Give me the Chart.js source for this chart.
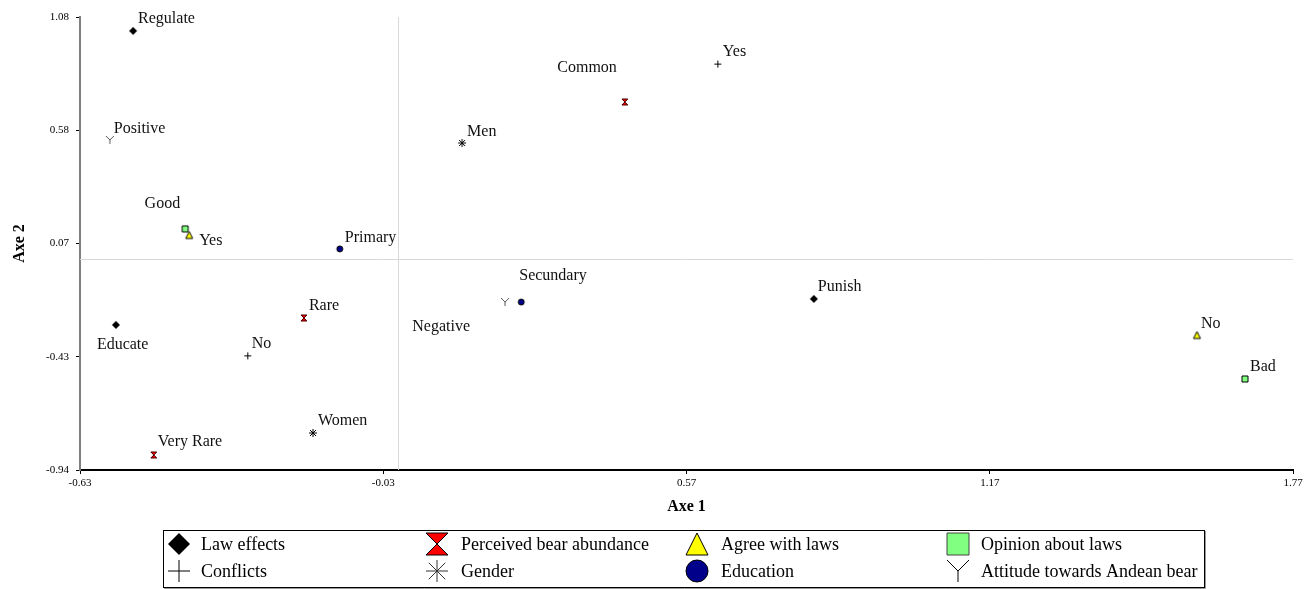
<!doctype html>
<html>

<head>
	<title>Correspondence Analysis</title>
	<script src="https://cdn.jsdelivr.net/npm/chart.js@4/dist/chart.umd.min.js"></script>
	<style>
		body { margin: 0; background: #fff; }
		#holder { width: 1304px; height: 589px; }
	</style>
</head>

<body>
	<div id="holder">
		<canvas id="chart-area" width="1304" height="589"></canvas>
	</div>
	<script>
		// category coordinates
		const lawLabels = ['Regulate', 'Educate', 'Punish'];
		const lawX = [-0.525, -0.559, 0.822];
		const lawY = [1.018, -0.293, -0.177];
		const abundanceLabels = ['Common', 'Rare', 'Very Rare'];
		const abundanceX = [0.448, -0.187, -0.484];
		const abundanceY = [0.701, -0.262, -0.873];
		const agreeLabels = ['Yes', 'No'];
		const agreeX = [-0.414, 1.580];
		const agreeY = [0.108, -0.338];
		const opinionLabels = ['Good', 'Bad'];
		const opinionX = [-0.422, 1.675];
		const opinionY = [0.135, -0.534];
		const conflictLabels = ['Yes', 'No'];
		const conflictX = [0.632, -0.298];
		const conflictY = [0.870, -0.431];
		const genderLabels = ['Men', 'Women'];
		const genderX = [0.126, -0.169];
		const genderY = [0.518, -0.775];
		const educationLabels = ['Primary', 'Secundary'];
		const educationX = [-0.116, 0.243];
		const educationY = [0.046, -0.191];
		const attitudeLabels = ['Positive', 'Negative'];
		const attitudeX = [-0.571, 0.211];
		const attitudeY = [0.532, -0.191];

		const xTicks = [-0.63, -0.03, 0.57, 1.17, 1.77];
		const xTickLabels = ['-0.63', '-0.03', '0.57', '1.17', '1.77'];
		const yTicks = [-0.94, -0.435, 0.07, 0.575, 1.08];
		const yTickLabels = ['-0.94', '-0.43', '0.07', '0.58', '1.08'];

		const FONT = 'Liberation Serif';
		Chart.defaults.font.family = FONT;
		Chart.defaults.color = '#000';

		// marker shapes, centred on 0,0
		function drawMarker(ctx, kind, s, big) {
			const h = s / 2;
			ctx.lineWidth = 1;
			ctx.strokeStyle = '#000';
			ctx.beginPath();
			if (kind === 'diamond') {
				ctx.moveTo(0, -h); ctx.lineTo(h, 0); ctx.lineTo(0, h); ctx.lineTo(-h, 0); ctx.closePath();
				ctx.fillStyle = '#000'; ctx.fill();
			} else if (kind === 'hourglass') {
				ctx.moveTo(-h, -h); ctx.lineTo(h, -h); ctx.lineTo(0, 0); ctx.closePath();
				ctx.moveTo(0, 0); ctx.lineTo(h, h); ctx.lineTo(-h, h); ctx.closePath();
				ctx.fillStyle = '#f00'; ctx.fill();
				ctx.strokeStyle = big ? '#000' : '#400'; ctx.stroke();
			} else if (kind === 'triangle') {
				ctx.moveTo(0, -h); ctx.lineTo(h, h); ctx.lineTo(-h, h); ctx.closePath();
				ctx.fillStyle = '#ff0'; ctx.fill(); ctx.stroke();
			} else if (kind === 'square') {
				ctx.rect(-h, -h, s, s);
				ctx.fillStyle = '#80ff80'; ctx.fill();
				ctx.strokeStyle = big ? '#444' : '#000'; ctx.stroke();
			} else if (kind === 'circle') {
				ctx.arc(0, 0, h, 0, Math.PI * 2);
				ctx.fillStyle = '#00008b'; ctx.fill();
				ctx.strokeStyle = '#000'; ctx.stroke();
			} else if (kind === 'plus') {
				ctx.moveTo(-h, 0); ctx.lineTo(h, 0); ctx.moveTo(0, -h); ctx.lineTo(0, h);
				ctx.stroke();
			} else if (kind === 'star') {
				const d = h * 0.75;
				ctx.moveTo(-h, 0); ctx.lineTo(h, 0); ctx.moveTo(0, -h); ctx.lineTo(0, h);
				ctx.moveTo(-d, -d); ctx.lineTo(d, d); ctx.moveTo(d, -d); ctx.lineTo(-d, d);
				ctx.strokeStyle = big ? '#333' : '#000'; ctx.stroke();
			} else if (kind === 'ysign') {
				ctx.moveTo(-h, -h); ctx.lineTo(0, 0); ctx.lineTo(h, -h); ctx.moveTo(0, 0); ctx.lineTo(0, h);
				ctx.strokeStyle = big ? '#000' : '#555'; ctx.stroke();
			}
		}

		function makeIcon(kind, s) {
			const c = document.createElement('canvas');
			c.width = s + 4;
			c.height = s + 4;
			const g = c.getContext('2d');
			g.translate(c.width / 2, c.height / 2);
			drawMarker(g, kind, s, false);
			return c;
		}

		function pts(xs, ys) {
			return xs.map((x, i) => ({ x: x, y: ys[i] }));
		}

		// legend order: row 1 then row 2
		const groups = [
			{ name: 'Law effects', kind: 'diamond', size: 8, labels: lawLabels, data: pts(lawX, lawY),
				off: [[5, -8, 'left'], [-19, 24, 'left'], [4, -8, 'left']] },
			{ name: 'Perceived bear abundance', kind: 'hourglass', size: 6, labels: abundanceLabels, data: pts(abundanceX, abundanceY),
				off: [[-8, -30, 'right'], [5, -8, 'left'], [4, -9, 'left']] },
			{ name: 'Agree with laws', kind: 'triangle', size: 7, labels: agreeLabels, data: pts(agreeX, agreeY),
				off: [[10, 10, 'left'], [4, -7, 'left']] },
			{ name: 'Opinion about laws', kind: 'square', size: 6, labels: opinionLabels, data: pts(opinionX, opinionY),
				off: [[-5, -21, 'right'], [5, -8, 'left']] },
			{ name: 'Conflicts', kind: 'plus', size: 7, labels: conflictLabels, data: pts(conflictX, conflictY),
				off: [[5, -8, 'left'], [4, -8, 'left']] },
			{ name: 'Gender', kind: 'star', size: 8, labels: genderLabels, data: pts(genderX, genderY),
				off: [[5, -7, 'left'], [5, -8, 'left']] },
			{ name: 'Education', kind: 'circle', size: 6, labels: educationLabels, data: pts(educationX, educationY),
				off: [[5, -7, 'left'], [-2, -22, 'left']] },
			{ name: 'Attitude towards Andean bear', kind: 'ysign', size: 8, labels: attitudeLabels, data: pts(attitudeX, attitudeY),
				off: [[4, -7, 'left'], [-35, 29, 'right']] }
		];

		const crossLines = {
			id: 'crossLines',
			beforeDatasetsDraw(chart) {
				const { ctx, chartArea, scales } = chart;
				const x0 = Math.round(scales.x.getPixelForValue(0)) + 0.5;
				const y0 = Math.round(scales.y.getPixelForValue(0)) + 0.5;
				ctx.save();
				ctx.strokeStyle = '#d8d8d8';
				ctx.lineWidth = 1;
				ctx.beginPath();
				ctx.moveTo(x0, chartArea.top);
				ctx.lineTo(x0, chartArea.bottom);
				ctx.moveTo(chartArea.left, y0);
				ctx.lineTo(chartArea.right, y0);
				ctx.stroke();
				ctx.restore();
			}
		};

		const pointLabels = {
			id: 'pointLabels',
			afterDatasetsDraw(chart) {
				const ctx = chart.ctx;
				ctx.save();
				ctx.font = '16px "' + FONT + '"';
				ctx.fillStyle = '#111';
				ctx.textBaseline = 'alphabetic';
				groups.forEach((g, di) => {
					chart.getDatasetMeta(di).data.forEach((el, i) => {
						const o = g.off[i];
						ctx.textAlign = o[2];
						ctx.fillText(g.labels[i], el.x + o[0], el.y + o[1]);
					});
				});
				ctx.restore();
			}
		};

		const boxLegend = {
			id: 'boxLegend',
			afterDraw(chart) {
				const ctx = chart.ctx;
				const iconX = [179, 437, 697, 958];
				const textX = [201, 461, 721, 981];
				const rowY = [544, 571];
				ctx.save();
				ctx.strokeStyle = '#999';
				ctx.lineWidth = 1;
				ctx.beginPath();
				ctx.moveTo(1205.5, 531); ctx.lineTo(1205.5, 588.5); ctx.lineTo(164, 588.5);
				ctx.stroke();
				ctx.strokeStyle = '#000';
				ctx.strokeRect(163.5, 530.5, 1041, 57);
				ctx.font = '18px "' + FONT + '"';
				ctx.fillStyle = '#000';
				ctx.textBaseline = 'middle';
				ctx.textAlign = 'left';
				groups.forEach((g, i) => {
					const col = i % 4;
					const row = Math.floor(i / 4);
					ctx.save();
					ctx.translate(iconX[col], rowY[row]);
					drawMarker(ctx, g.kind, 22, true);
					ctx.restore();
					ctx.fillText(g.name, textX[col], rowY[row] + 1);
				});
				ctx.restore();
			}
		};

		const config = {
			type: 'scatter',
			data: {
				datasets: groups.map((g) => ({
					label: g.name,
					data: g.data,
					pointStyle: makeIcon(g.kind, g.size),
					pointRadius: g.size / 2,
					pointHoverRadius: g.size / 2
				}))
			},
			options: {
				responsive: false,
				animation: false,
				events: [],
				layout: {
					padding: { top: 17, right: 11, bottom: 69, left: 0 }
				},
				plugins: {
					legend: { display: false },
					tooltip: { enabled: false }
				},
				scales: {
					x: {
						type: 'linear',
						min: -0.63,
						max: 1.77,
						afterBuildTicks(scale) {
							scale.ticks = xTicks.map((v) => ({ value: v }));
						},
						afterFit(scale) {
							scale.height = 50;
							scale.paddingLeft = 0;
							scale.paddingRight = 0;
						},
						ticks: {
							font: { size: 11 },
							padding: 3,
							maxRotation: 0,
							autoSkip: false,
							callback: (v, i) => xTickLabels[i]
						},
						grid: { drawOnChartArea: false, color: '#000', tickLength: 4 },
						border: { color: '#000', width: 2 },
						title: {
							display: true,
							text: 'Axe 1',
							font: { size: 16, weight: 'bold' },
							padding: { top: 0, bottom: 4 }
						}
					},
					y: {
						type: 'linear',
						min: -0.94,
						max: 1.08,
						afterBuildTicks(scale) {
							scale.ticks = yTicks.map((v) => ({ value: v }));
						},
						afterFit(scale) {
							scale.width = 80;
							scale.paddingTop = 0;
							scale.paddingBottom = 0;
						},
						ticks: {
							font: { size: 11 },
							padding: 7,
							autoSkip: false,
							callback: (v, i) => yTickLabels[i]
						},
						grid: { drawOnChartArea: false, color: '#000', tickLength: 4 },
						border: { color: '#808080', width: 2 },
						title: {
							display: true,
							text: 'Axe 2',
							font: { size: 16, weight: 'bold' },
							padding: { top: 10, bottom: 0 }
						}
					}
				}
			},
			plugins: [crossLines, pointLabels, boxLegend]
		};

		window.onload = function() {
			const ctx = document.getElementById('chart-area');
			window.myScatter = new Chart(ctx, config);
		};
	</script>
</body>

</html>
